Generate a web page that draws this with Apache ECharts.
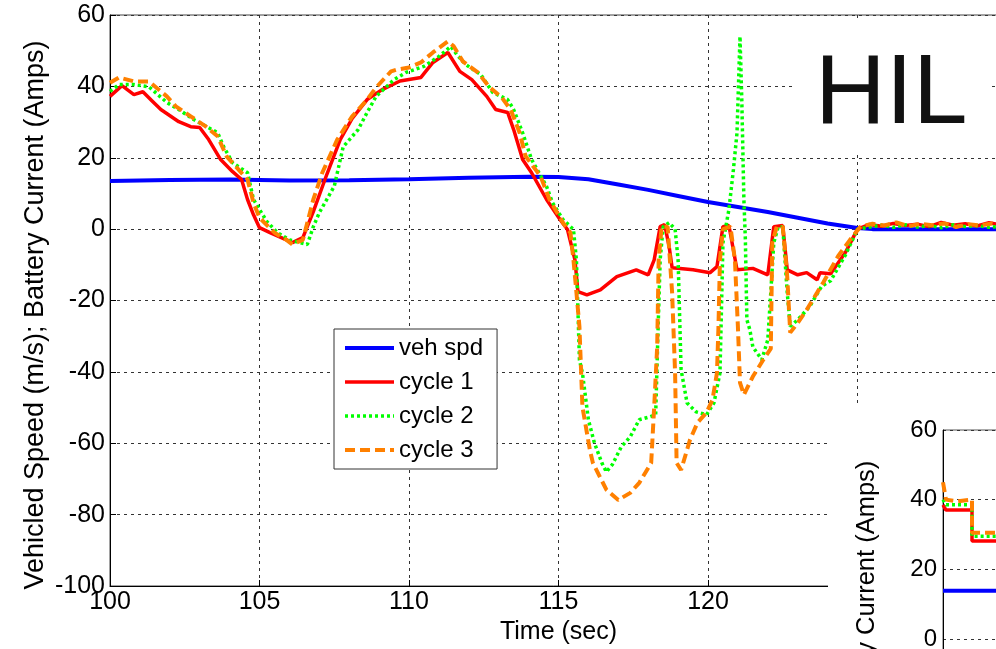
<!DOCTYPE html>
<html>
<head>
<meta charset="utf-8">
<script src="https://cdn.jsdelivr.net/npm/echarts@6/dist/echarts.min.js"></script>
<style>
  html, body { margin: 0; padding: 0; background: #fff; }
  #chart { width: 996px; height: 649px; }
</style>
</head>
<body>
<div id="chart"></div>
<script>
// vehicle speed (m/s)
var vehT   = [100, 102, 104, 106, 108, 110, 112, 114, 115, 116, 117, 118, 119, 120, 121, 122, 123, 124, 125, 125.5, 130];
var vehSpd = [13.5, 13.8, 13.9, 13.6, 13.7, 14.0, 14.4, 14.7, 14.6, 14.0, 12.5, 11.0, 9.3, 7.6, 6.2, 4.8, 3.2, 1.6, 0.3, 0, 0];

// cycle 1 battery current (A)
var c1T = [100, 100.4, 100.8, 101.1, 101.4, 101.7, 102.3, 102.7, 103, 103.3, 103.7, 104.1, 104.4, 104.6, 104.8, 105, 105.35, 105.9, 106.1, 106.45,
  106.8, 107.25, 107.7, 108.1, 108.6, 109.1, 109.7, 110.4, 110.8, 111.3, 111.7, 112.1, 112.6, 112.9, 113.3, 113.5, 113.8, 114.1, 114.6, 115.05,
  115.3, 115.55, 115.65, 115.95, 116.4, 116.95, 117.6, 118, 118.2, 118.4, 118.55, 118.7, 118.8, 119.5, 120.07, 120.3, 120.5, 120.7, 120.97, 121.5,
  122, 122.2, 122.5, 122.65, 123, 123.3, 123.65, 123.75, 124.1, 124.6, 125, 125.4, 125.8, 126.2, 126.6, 127, 127.4, 127.8, 128.2, 128.6,
  129, 129.4, 129.8, 130];
var c1Amp = [37.2, 40.2, 37.7, 38.5, 36, 33.5, 30.1, 28.7, 28.5, 25.1, 19.5, 16.1, 13.9, 8.3, 4.0, 0.4, -1.0, -3.0, -3.8, -2.4,
  4.9, 15.3, 25.1, 31, 36.3, 39.1, 41.5, 42.5, 46.7, 49.5, 44.2, 41.9, 37.2, 33.5, 32.7, 27.9, 19.5, 15.8, 8.3, 2.7,
  -0.1, -8.6, -17.5, -18.4, -17.0, -13.3, -11.4, -12.8, -8.6, 0.7, 1.3, -4.9, -10.8, -11.4, -12.2, -10.5, 0.7, 1.0, -11.4, -11.0,
  -12.8, 0.7, 1.0, -11.4, -12.8, -12.2, -14.2, -12.2, -12.5, -6.5, 0, 1.3, 0.8, 1.6, 1.0, 1.4, 0.7, 1.9, 1.1, 1.5,
  0.9, 1.8, 1.2, 1.2];

// cycle 2 battery current (A)
var c2T = [100, 100.3, 100.8, 101.3, 101.9, 102.3, 102.8, 103.3, 103.6, 103.8, 104.1, 104.6, 104.8, 105, 105.25, 105.6, 106, 106.35, 106.6, 106.8,
  107, 107.5, 107.8, 108.3, 108.6, 108.9, 109.5, 109.9, 110.5, 111, 111.4, 111.6, 111.9, 112.4, 112.8, 113.3, 113.5, 113.8, 114.1, 114.6,
  114.8, 115.15, 115.5, 115.6, 115.7, 115.8, 116, 116.2, 116.45, 116.6, 116.8, 117.1, 117.4, 117.7, 118.05, 118.25, 118.32, 118.4, 118.5, 118.7,
  118.9, 119, 119.1, 119.3, 119.6, 119.95, 120.2, 120.4, 120.45, 120.5, 120.7, 120.85, 120.97, 121.07, 121.13, 121.2, 121.25, 121.3, 121.4, 121.5,
  121.8, 122, 122.1, 122.2, 122.35, 122.5, 122.65, 122.75, 123, 123.4, 123.8, 124.1, 124.6, 125, 125.4, 125.8, 126.2, 126.6, 127, 127.4,
  127.8, 128.2, 128.6, 129, 129.4, 130];
var c2Amp = [38.6, 40.5, 40.5, 39.9, 35.5, 33.5, 30.7, 28.4, 27.0, 23.1, 18.6, 15.8, 8.3, 5.5, 2.1, -1.0, -3.0, -3.8, -4.3, 0.7,
  4.6, 12.0, 23.1, 27.9, 32.7, 37.2, 41.9, 43.9, 45.6, 48.4, 51.2, 48.9, 46.1, 43.3, 38.3, 36.3, 33.5, 27.0, 19.5, 12.0,
  7.4, 2.7, -0.1, -8.6, -36.6, -40.3, -53.4, -59.9, -65.5, -68.0, -66.0, -61.0, -58.2, -53.4, -52.6, -52.0, -31, -8.6, 0.7, 1.8,
  0, -8.6, -39.4, -48.7, -51.2, -52.0, -48.7, -40.3, -22.6, -3.8, 5.5, 16.7, 27.0, 54.0, 36.3, 8.3, -3, -25.4, -28.2, -33,
  -36.6, -31, -17.8, -3.8, 0.7, 0.7, -17.8, -27.3, -25.4, -21.7, -16, -14.5, -7.2, 0, 0.6, 1.1, 0.5, 1.2, 0.6, 1.0,
  0.4, 1.2, 0.7, 1.0, 0.5, 0.9];

// cycle 3 battery current (A)
var c3T = [100, 100.3, 100.8, 101.3, 101.9, 102.2, 102.7, 103.2, 103.6, 103.9, 104.2, 104.6, 104.8, 105, 105.5, 105.9, 106.1, 106.45, 106.8, 107.1,
  107.6, 108.1, 108.6, 108.9, 109.4, 109.6, 110, 110.4, 110.8, 111.3, 111.5, 111.8, 112.3, 112.7, 113.1, 113.4, 113.7, 113.9, 114.4, 114.7,
  115.15, 115.4, 115.5, 115.6, 115.7, 115.8, 116.05, 116.15, 116.6, 117, 117.4, 117.7, 118.1, 118.2, 118.3, 118.35, 118.45, 118.65, 118.8, 118.9,
  118.95, 119.1, 119.4, 119.65, 119.95, 120.15, 120.3, 120.35, 120.4, 120.5, 120.75, 120.9, 121, 121.07, 121.2, 121.5, 121.85, 122.1, 122.15, 122.3,
  122.5, 122.65, 122.75, 123, 123.3, 123.65, 123.85, 124.35, 124.75, 125.1, 125.5, 125.9, 126.3, 126.7, 127.1, 127.5, 127.9, 128.3, 128.7, 129.1,
  129.5, 130];
var c3Amp = [41.0, 42.5, 41.4, 41.4, 37.2, 34.4, 31.6, 28.8, 26.0, 20.4, 17.6, 13.9, 7.4, 3.2, -1.0, -3.0, -4.3, -3.0, 8.3, 15.8,
  25.1, 31.6, 36.3, 39.7, 44.2, 44.7, 45.3, 46.7, 49.5, 52.6, 51.2, 47.0, 43.9, 39.7, 36.9, 33.5, 27.0, 20.4, 14.8, 8.3,
  1.8, -1.0, -8.6, -17.8, -27.3, -49.8, -61.9, -65.5, -73.0, -75.9, -73.9, -71.1, -65.5, -49.8, -33, -8.6, 0.7, 0.7, -17.8, -40.3,
  -65.5, -67.5, -59.0, -54.2, -51.4, -47.8, -40.3, -27.3, -8.6, 0.0, 0.7, -8.6, -27.3, -43, -46.4, -41.3, -36.6, -33.5, -3.8, 0.7,
  0.7, -13.3, -29, -26.3, -22.6, -17.8, -15, -7.6, -3, 0.7, 1.5, 1.0, 1.9, 0.8, 1.5, 1.1, 1.6, 0.6, 1.4, 1.0,
  1.6, 1.1];

// inset plot (second figure, bottom right)
var insetVehT = [100, 101.25, 101.25, 105];
var insetVeh  = [13.8, 13.8, 14.1, 14.1];
var insetC1T = [100, 100.1, 100.97, 100.97, 105];
var insetC1  = [38.5, 37, 37, 28.1, 28.1];
var insetC2T = [100, 100.1, 100.97, 100.97, 105];
var insetC2  = [40, 38.5, 38.5, 29.5, 29.5];
var insetC3T = [100, 100.1, 100.5, 100.97, 100.97, 105];
var insetC3  = [45, 40, 39.5, 40, 30.5, 30.5];

function pairs(t, v) {
	return t.map(function (x, i) { return [x, v[i]]; });
}

var FONT = 'Liberation Sans, Arial, sans-serif';
var gridDash = { color : '#333', width : 1, type : [3, 4] };

function lineSeries(name, t, v, color, width, dash, xi, z) {
	return {
		name : name,
		type : 'line',
		xAxisIndex : xi,
		yAxisIndex : xi,
		data : pairs(t, v),
		symbol : 'none',
		z : z,
		lineStyle : { color : color, width : width, type : dash },
		itemStyle : { color : color },
		emphasis : { disabled : true }
	};
}

var chart = echarts.init(document.getElementById('chart'));
var option = {
	animation : false,
	textStyle : { fontFamily : FONT },
	grid : [ {
		left : 110, top : 15, width : 897, height : 571,
		outerBoundsMode : 'none', containLabel : false,
		show : true, borderColor : '#444', borderWidth : 1
	}, {
		left : 943, top : 430, width : 598, height : 557,
		outerBoundsMode : 'none', containLabel : false,
		show : true, borderColor : '#555', borderWidth : 1, z : 11
	} ],
	legend : {
		data : [ 'veh spd', 'cycle 1', 'cycle 2', 'cycle 3' ],
		orient : 'vertical',
		left : 334, top : 329,
		itemWidth : 49, itemHeight : 14, itemGap : 10,
		padding : [ 7, 14, 7, 9 ],
		backgroundColor : '#fff',
		borderColor : '#333', borderWidth : 1, borderRadius : 0,
		itemStyle : { opacity : 0, borderWidth : 0 },
		lineStyle : { width : 'inherit' },
		textStyle : { fontSize : 24, color : '#000', fontFamily : FONT },
		selectedMode : false
	},
	xAxis : [ {
		type : 'value', gridIndex : 0, min : 100, max : 130, interval : 5,
		name : 'Time (sec)', nameLocation : 'middle', nameGap : 34,
		nameTextStyle : { fontSize : 25, color : '#000', fontFamily : FONT },
		axisLine : { show : true, onZero : false, lineStyle : { color : '#000', width : 1 } },
		axisTick : { show : true, inside : true, length : 6, lineStyle : { color : '#000' } },
		axisLabel : { fontSize : 25, color : '#000', margin : 4, fontFamily : FONT },
		splitLine : { show : true, lineStyle : gridDash }
	}, {
		type : 'value', gridIndex : 1, min : 100, max : 120, interval : 5, z : 11,
		axisLine : { show : true, onZero : false, lineStyle : { color : '#000' } },
		axisTick : { show : false },
		axisLabel : { show : false },
		splitLine : { show : true, lineStyle : gridDash }
	} ],
	yAxis : [ {
		type : 'value', gridIndex : 0, min : -100, max : 60, interval : 20,
		axisLine : { show : true, onZero : false, lineStyle : { color : '#000', width : 1 } },
		axisTick : { show : true, inside : true, length : 6, lineStyle : { color : '#000' } },
		axisLabel : { fontSize : 25, color : '#000', margin : 5, fontFamily : FONT },
		splitLine : { show : true, lineStyle : gridDash }
	}, {
		type : 'value', gridIndex : 1, min : -100, max : 60, interval : 20, z : 11,
		axisLine : { show : true, onZero : false, lineStyle : { color : '#000' } },
		axisTick : { show : false },
		axisLabel : { fontSize : 24, color : '#000', margin : 6, fontFamily : FONT },
		splitLine : { show : true, lineStyle : gridDash }
	} ],
	graphic : [ {
		type : 'rect', z : 1, silent : true,
		shape : { x : 796, y : 20, width : 192, height : 134 },
		style : { fill : '#fff' }
	}, {
		type : 'text', z : 1, silent : true, x : 815, y : 96,
		style : { text : 'HIL', fontSize : 98, fontFamily : FONT, fill : '#111', verticalAlign : 'middle' }
	}, {
		type : 'text', silent : true, x : 36, y : 315, rotation : Math.PI / 2,
		style : { text : 'Vehicled Speed (m/s); Battery Current (Amps)', fontSize : 27, fontFamily : FONT,
			fill : '#000', align : 'center', verticalAlign : 'middle' }
	}, {
		type : 'rect', z : 10, silent : true,
		shape : { x : 828, y : 405, width : 168, height : 244 },
		style : { fill : '#fff' }
	}, {
		type : 'text', z : 12, silent : true, x : 867, y : 720, rotation : Math.PI / 2,
		style : { text : 'Vehicled Speed (m/s); Battery Current (Amps)', fontSize : 25.5, fontFamily : FONT,
			fill : '#000', align : 'center', verticalAlign : 'middle' }
	} ],
	series : [
		lineSeries('veh spd', vehT, vehSpd, '#0000ff', 4, 'solid', 0, 2),
		lineSeries('cycle 1', c1T, c1Amp, '#ff0000', 3.5, 'solid', 0, 2),
		lineSeries('cycle 2', c2T, c2Amp, '#00ff00', 3.5, [3, 3], 0, 2),
		lineSeries('cycle 3', c3T, c3Amp, '#ff8000', 4, [10, 5], 0, 2),
		lineSeries('inset veh', insetVehT, insetVeh, '#0000ff', 4, 'solid', 1, 12),
		lineSeries('inset c1', insetC1T, insetC1, '#ff0000', 3.5, 'solid', 1, 12),
		lineSeries('inset c2', insetC2T, insetC2, '#00ff00', 3.5, [3, 3], 1, 12),
		lineSeries('inset c3', insetC3T, insetC3, '#ff8000', 4, [10, 5], 1, 12)
	]
};
chart.setOption(option);
</script>
</body>
</html>
